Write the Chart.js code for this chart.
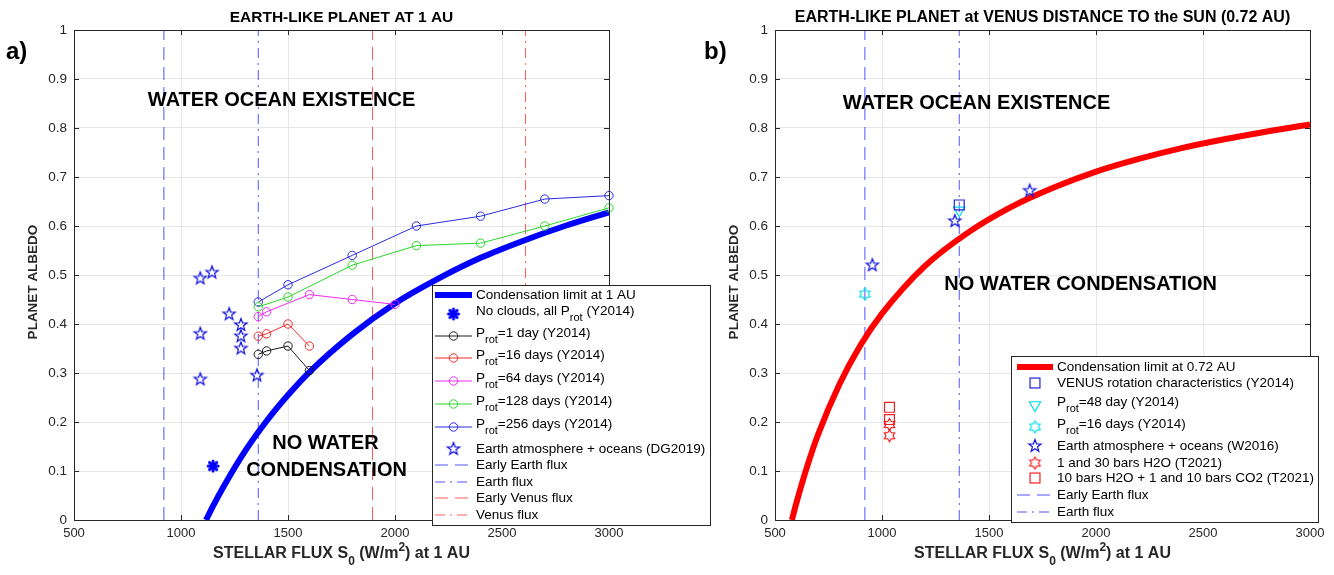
<!DOCTYPE html>
<html>
<head>
<meta charset="utf-8">
<script src="https://cdn.jsdelivr.net/npm/chart.js"></script>
<style>
  body { margin: 0; background: #fff; width: 1334px; height: 575px; overflow: hidden; position: relative; }
  canvas { position: absolute; top: 0; }
  #chartA { left: 0; }
  #chartB { left: 667px; }
</style>
</head>
<body>
<canvas id="chartA" width="720" height="575"></canvas>
<canvas id="chartB" width="667" height="575"></canvas>
<script>
var FONT = "'Liberation Sans', Arial, Helvetica, sans-serif";

// ---------- panel a) : earth-like planet at 1 AU ----------
var condA_x = [1117, 1150, 1200, 1300, 1400, 1500, 1600, 1800, 2000, 2200, 2400, 2600, 2800, 3000];
var condA_y = [0, 0.029, 0.069, 0.141, 0.202, 0.255, 0.302, 0.379, 0.442, 0.492, 0.535, 0.570, 0.601, 0.628];
var noCloud_x = [1150];
var noCloud_y = [0.11];
var p1_x = [1361, 1400, 1500, 1600];
var p1_y = [0.338, 0.345, 0.355, 0.305];
var p16_x = [1361, 1400, 1500, 1600];
var p16_y = [0.375, 0.38, 0.40, 0.355];
var p64_x = [1361, 1400, 1600, 1800, 2000];
var p64_y = [0.415, 0.425, 0.46, 0.45, 0.44];
var p128_x = [1361, 1500, 1800, 2100, 2400, 2700, 3000];
var p128_y = [0.435, 0.455, 0.52, 0.56, 0.565, 0.60, 0.637];
var p256_x = [1361, 1500, 1800, 2100, 2400, 2700, 3000];
var p256_y = [0.445, 0.48, 0.54, 0.60, 0.62, 0.655, 0.662];
var dg2019_x = [1090, 1145, 1225, 1280, 1280, 1280, 1090, 1090, 1355];
var dg2019_y = [0.493, 0.505, 0.42, 0.398, 0.375, 0.35, 0.38, 0.287, 0.295];

// ---------- panel b) : earth-like planet at 0.72 AU ----------
var condB_x = [579, 600, 650, 700, 800, 900, 1000, 1200, 1400, 1600, 1800, 2000, 2200, 2400, 2600, 2800, 3000];
var condB_y = [0, 0.035, 0.109, 0.173, 0.276, 0.357, 0.421, 0.518, 0.586, 0.638, 0.678, 0.711, 0.737, 0.759, 0.777, 0.793, 0.807];
var venusRot_x = [1361];
var venusRot_y = [0.643];
var p48b_x = [1361];
var p48b_y = [0.632];
var p16b_x = [920];
var p16b_y = [0.461];
var w2016_x = [955, 1340, 1690];
var w2016_y = [0.52, 0.61, 0.672];
var t2021h2o_x = [1035, 1035];
var t2021h2o_y = [0.195, 0.172];
var t2021co2_x = [1035, 1035];
var t2021co2_y = [0.23, 0.205];

// reference fluxes (W/m2)
var earlyEarthFlux = 920;
var earthFlux = 1361;
var earlyVenusFlux = 1895;
var venusFlux = 2610;

// axis ticks
var xTicks = [500, 1000, 1500, 2000, 2500, 3000];
var yTicks = [0, 0.1, 0.2, 0.3, 0.4, 0.5, 0.6, 0.7, 0.8, 0.9, 1];


function pts(xs, ys) {
    return xs.map(function (x, i) { return { x: x, y: ys[i] }; });
}

// small canvases used as marker shapes (pentagram, hexagram, asterisk)
function starImg(n, rOut, rIn, color, lw) {
    var size = Math.ceil(2 * rOut + 2 * lw + 2);
    var c = document.createElement('canvas');
    c.width = c.height = size;
    var g = c.getContext('2d');
    var m = size / 2;
    g.beginPath();
    for (var i = 0; i < 2 * n; i++) {
        var r = i % 2 ? rIn : rOut;
        var a = -Math.PI / 2 + i * Math.PI / n;
        if (i === 0) g.moveTo(m + r * Math.cos(a), m + r * Math.sin(a));
        else g.lineTo(m + r * Math.cos(a), m + r * Math.sin(a));
    }
    g.closePath();
    g.strokeStyle = color;
    g.lineWidth = lw;
    g.stroke();
    return c;
}

function asteriskImg(r, color) {
    var size = Math.ceil(2 * r + 6);
    var c = document.createElement('canvas');
    c.width = c.height = size;
    var g = c.getContext('2d');
    var m = size / 2;
    g.strokeStyle = color;
    g.lineWidth = 3;
    g.lineCap = 'round';
    for (var i = 0; i < 4; i++) {
        var a = i * Math.PI / 4;
        g.beginPath();
        g.moveTo(m - r * Math.cos(a), m - r * Math.sin(a));
        g.lineTo(m + r * Math.cos(a), m + r * Math.sin(a));
        g.stroke();
    }
    g.fillStyle = color;
    g.beginPath();
    g.arc(m, m, r * 0.6, 0, 2 * Math.PI);
    g.fill();
    return c;
}

var BLUE = '#0000ff', RED = '#ff0000', CYAN = '#00dcec';
var pentaBlue = starImg(5, 6.5, 2.7, '#1010e0', 1.2);
var hexaCyan = starImg(6, 6, 3.5, CYAN, 1.2);
var hexaRed = starImg(6, 6, 3.5, '#f02020', 1.2);
var asterBlue = asteriskImg(5, BLUE);

function curve(label, xs, ys, color) {
    return { label: label, data: pts(xs, ys), showLine: true, borderColor: color, borderWidth: 6,
             pointRadius: 0, cubicInterpolationMode: 'monotone', order: 3 };
}
function series(label, xs, ys, color) {
    return { label: label, data: pts(xs, ys), showLine: true, borderColor: color, borderWidth: 1,
             pointStyle: 'circle', pointRadius: 4.2, pointBorderWidth: 1, pointBorderColor: color,
             pointBackgroundColor: 'rgba(0,0,0,0)', clip: 10, order: 2 };
}
function markers(label, xs, ys, style, color, radius, rotation) {
    return { label: label, data: pts(xs, ys), showLine: false, borderColor: color,
             pointStyle: style, pointRadius: radius, pointRotation: rotation || 0, pointBorderWidth: 1.2,
             pointBorderColor: color, pointBackgroundColor: 'rgba(0,0,0,0)', clip: 10, order: 1 };
}
function vline(label, x, color, dash) {
    return { label: label, data: [{ x: x, y: 0 }, { x: x, y: 1 }], showLine: true, borderColor: color,
             borderWidth: 1, borderDash: dash, pointRadius: 0, order: 5 };
}

var DASH = [13, 7];
var DASHDOT = [10, 5, 2, 5];

// draws text with _{sub} and ^{sup} parts
function drawRich(ctx, str, x, y, size, weight, align) {
    var parts = [];
    var re = /([_^])\{([^}]*)\}/g;
    var last = 0, m;
    while ((m = re.exec(str))) {
        if (m.index > last) parts.push({ t: str.slice(last, m.index), k: '' });
        parts.push({ t: m[2], k: m[1] });
        last = re.lastIndex;
    }
    if (last < str.length) parts.push({ t: str.slice(last), k: '' });
    var total = 0;
    parts.forEach(function (p) {
        ctx.font = weight + ' ' + (p.k ? Math.round(size * 0.78) : size) + 'px ' + FONT;
        p.w = ctx.measureText(p.t).width;
        total += p.w;
    });
    var cx = align === 'center' ? x - total / 2 : x;
    ctx.textAlign = 'left';
    ctx.textBaseline = 'middle';
    parts.forEach(function (p) {
        ctx.font = weight + ' ' + (p.k ? Math.round(size * 0.78) : size) + 'px ' + FONT;
        var dy = p.k === '_' ? size * 0.5 : (p.k === '^' ? -size * 0.4 : 0);
        ctx.fillText(p.t, cx, y + dy);
        cx += p.w;
    });
}

function drawMarker(ctx, ds, x, y) {
    var style = ds.pointStyle, r = ds.pointRadius;
    ctx.save();
    ctx.setLineDash([]);
    ctx.strokeStyle = ds.pointBorderColor;
    ctx.lineWidth = ds.pointBorderWidth || 1;
    if (typeof style === 'object') {
        ctx.drawImage(style, x - style.width / 2, y - style.height / 2);
    } else if (style === 'circle') {
        ctx.beginPath(); ctx.arc(x, y, r, 0, 2 * Math.PI); ctx.stroke();
    } else if (style === 'rect') {
        var s = r * Math.SQRT1_2;
        ctx.strokeRect(x - s, y - s, 2 * s, 2 * s);
    } else if (style === 'triangle') {
        var rad = (ds.pointRotation || 0) * Math.PI / 180;
        ctx.beginPath();
        for (var i = 0; i < 3; i++) {
            var a = rad + i * 2 * Math.PI / 3;
            if (i === 0) ctx.moveTo(x + Math.sin(a) * r, y - Math.cos(a) * r);
            else ctx.lineTo(x + Math.sin(a) * r, y - Math.cos(a) * r);
        }
        ctx.closePath(); ctx.stroke();
    }
    ctx.restore();
}

// frame, titles, text notes and the legend box
var decoPlugin = {
    id: 'deco',
    afterDraw: function (chart, args, o) {
        var ctx = chart.ctx, a = chart.chartArea;
        var sx = chart.scales.x, sy = chart.scales.y;
        ctx.save();
        // box with inward ticks
        ctx.strokeStyle = '#262626';
        ctx.lineWidth = 1;
        ctx.strokeRect(a.left + 0.5, a.top + 0.5, a.right - a.left, a.bottom - a.top);
        ctx.beginPath();
        xTicks.forEach(function (v) {
            var px = Math.round(sx.getPixelForValue(v)) + 0.5;
            ctx.moveTo(px, a.bottom); ctx.lineTo(px, a.bottom - 5);
            ctx.moveTo(px, a.top); ctx.lineTo(px, a.top + 5);
        });
        yTicks.forEach(function (v) {
            var py = Math.round(sy.getPixelForValue(v)) + 0.5;
            ctx.moveTo(a.left, py); ctx.lineTo(a.left + 5, py);
            ctx.moveTo(a.right, py); ctx.lineTo(a.right - 5, py);
        });
        ctx.stroke();

        ctx.fillStyle = '#000';
        o.notes.forEach(function (n) {
            ctx.font = 'bold 20px ' + FONT;
            ctx.textAlign = 'center';
            ctx.textBaseline = 'middle';
            ctx.fillText(n.text, sx.getPixelForValue(n.x), sy.getPixelForValue(n.y));
        });

        var cxm = (a.left + a.right) / 2;
        ctx.fillStyle = '#000';
        drawRich(ctx, o.title, cxm, 18, o.titleSize, 'bold', 'center');
        ctx.fillStyle = '#262626';
        drawRich(ctx, 'STELLAR FLUX S_{0} (W/m^{2}) at 1 AU', cxm, 554, 16, 'bold', 'center');
        ctx.save();
        ctx.translate(a.left - 41, 282);
        ctx.rotate(-Math.PI / 2);
        drawRich(ctx, 'PLANET ALBEDO', 0, 0, 13.5, 'bold', 'center');
        ctx.restore();
        ctx.fillStyle = '#000';
        drawRich(ctx, o.panel, o.panelX, 52, 24, 'bold', 'left');

        // legend
        var L = o.legend;
        ctx.fillStyle = '#fff';
        ctx.fillRect(L.left, L.top, L.width, L.height);
        ctx.strokeStyle = '#262626';
        ctx.lineWidth = 1;
        ctx.strokeRect(L.left + 0.5, L.top + 0.5, L.width, L.height);
        chart.data.datasets.forEach(function (ds, i) {
            var y = L.top + L.rows[i];
            if (ds.showLine) {
                ctx.save();
                ctx.strokeStyle = ds.borderColor;
                ctx.lineWidth = ds.borderWidth;
                ctx.setLineDash(ds.borderDash || []);
                ctx.beginPath();
                ctx.moveTo(L.left + L.s0, y);
                ctx.lineTo(L.left + L.s1, y);
                ctx.stroke();
                ctx.restore();
            }
            if (ds.pointRadius > 0) drawMarker(ctx, ds, L.left + (L.s0 + L.s1) / 2, y);
            ctx.fillStyle = '#000';
            var ty = ds.label.indexOf('_{') >= 0 ? y - 3 : y;
            drawRich(ctx, ds.label, L.left + L.tx, ty, 13.5, 'normal', 'left');
        });
        ctx.restore();
    }
};

function axesOptions(yWidth, padRight, deco) {
    return {
        responsive: false,
        animation: false,
        layout: { padding: { top: 30, right: padRight, bottom: 0, left: 0 } },
        plugins: { legend: { display: false }, tooltip: { enabled: false }, deco: deco },
        scales: {
            x: {
                type: 'linear', min: 500, max: 3000,
                afterBuildTicks: function (s) { s.ticks = xTicks.map(function (v) { return { value: v }; }); },
                afterFit: function (s) { s.height = 55; },
                ticks: { color: '#262626', font: { family: FONT, size: 13 }, padding: 6, maxRotation: 0,
                         callback: function (v) { return String(v); } },
                grid: { color: '#e6e6e6', drawTicks: false },
                border: { display: false }
            },
            y: {
                type: 'linear', min: 0, max: 1,
                afterBuildTicks: function (s) { s.ticks = yTicks.map(function (v) { return { value: v }; }); },
                afterFit: function (s) { s.width = yWidth; },
                ticks: { color: '#262626', font: { family: FONT, size: 13.5 }, padding: 7,
                         callback: function (v) { return String(Math.round(v * 10) / 10); } },
                grid: { color: '#e6e6e6', drawTicks: false },
                border: { display: false }
            }
        }
    };
}

new Chart(document.getElementById('chartA'), {
    type: 'scatter',
    data: {
        datasets: [
            curve('Condensation limit at 1 AU', condA_x, condA_y, BLUE),
            markers('No clouds, all P_{rot} (Y2014)', noCloud_x, noCloud_y, asterBlue, BLUE, 6),
            series('P_{rot}=1 day (Y2014)', p1_x, p1_y, '#1a1a1a'),
            series('P_{rot}=16 days (Y2014)', p16_x, p16_y, '#f02a2a'),
            series('P_{rot}=64 days (Y2014)', p64_x, p64_y, '#f02af0'),
            series('P_{rot}=128 days (Y2014)', p128_x, p128_y, '#2ad82a'),
            series('P_{rot}=256 days (Y2014)', p256_x, p256_y, '#2a2ae0'),
            markers('Earth atmosphere + oceans (DG2019)', dg2019_x, dg2019_y, pentaBlue, BLUE, 7),
            vline('Early Earth flux', earlyEarthFlux, 'rgba(40,40,255,0.8)', DASH),
            vline('Earth flux', earthFlux, 'rgba(40,40,255,0.8)', DASHDOT),
            vline('Early Venus flux', earlyVenusFlux, 'rgba(255,50,50,0.8)', DASH),
            vline('Venus flux', venusFlux, 'rgba(255,50,50,0.8)', DASHDOT)
        ]
    },
    options: axesOptions(74, 111, {
        title: 'EARTH-LIKE PLANET AT 1 AU', titleSize: 15.5,
        panel: 'a)', panelX: 6,
        notes: [
            { text: 'WATER OCEAN EXISTENCE', x: 1470, y: 0.857 },
            { text: 'NO WATER', x: 1675, y: 0.156 },
            { text: 'CONDENSATION', x: 1680, y: 0.102 }
        ],
        legend: { left: 432, top: 285, width: 278, height: 240, s0: 3, s1: 40, tx: 44,
                  rows: [10, 29, 51, 73, 96, 119, 142, 164, 180, 197, 213, 230] }
    }),
    plugins: [decoPlugin]
});

new Chart(document.getElementById('chartB'), {
    type: 'scatter',
    data: {
        datasets: [
            curve('Condensation limit at 0.72 AU', condB_x, condB_y, RED),
            markers('VENUS rotation characteristics (Y2014)', venusRot_x, venusRot_y, 'rect', '#2020e0', 7),
            markers('P_{rot}=48 day (Y2014)', p48b_x, p48b_y, 'triangle', CYAN, 6.5, 180),
            markers('P_{rot}=16 days (Y2014)', p16b_x, p16b_y, hexaCyan, CYAN, 7),
            markers('Earth atmosphere + oceans (W2016)', w2016_x, w2016_y, pentaBlue, BLUE, 7),
            markers('1 and 30 bars H2O (T2021)', t2021h2o_x, t2021h2o_y, hexaRed, RED, 7),
            markers('10 bars H2O + 1 and 10 bars CO2 (T2021)', t2021co2_x, t2021co2_y, 'rect', '#f02020', 7),
            vline('Early Earth flux', earlyEarthFlux, 'rgba(40,40,255,0.8)', DASH),
            vline('Earth flux', earthFlux, 'rgba(40,40,255,0.8)', DASHDOT)
        ]
    },
    options: axesOptions(108, 24, {
        title: 'EARTH-LIKE PLANET at VENUS DISTANCE TO the SUN (0.72 AU)', titleSize: 16,
        panel: 'b)', panelX: 37,
        notes: [
            { text: 'WATER OCEAN EXISTENCE', x: 1442, y: 0.851 },
            { text: 'NO WATER CONDENSATION', x: 1928, y: 0.48 }
        ],
        legend: { left: 344, top: 356, width: 307, height: 166, s0: 6, s1: 42, tx: 46,
                  rows: [11, 27, 49, 71, 90, 107, 122, 139, 156] }
    }),
    plugins: [decoPlugin]
});
</script>
</body>
</html>
